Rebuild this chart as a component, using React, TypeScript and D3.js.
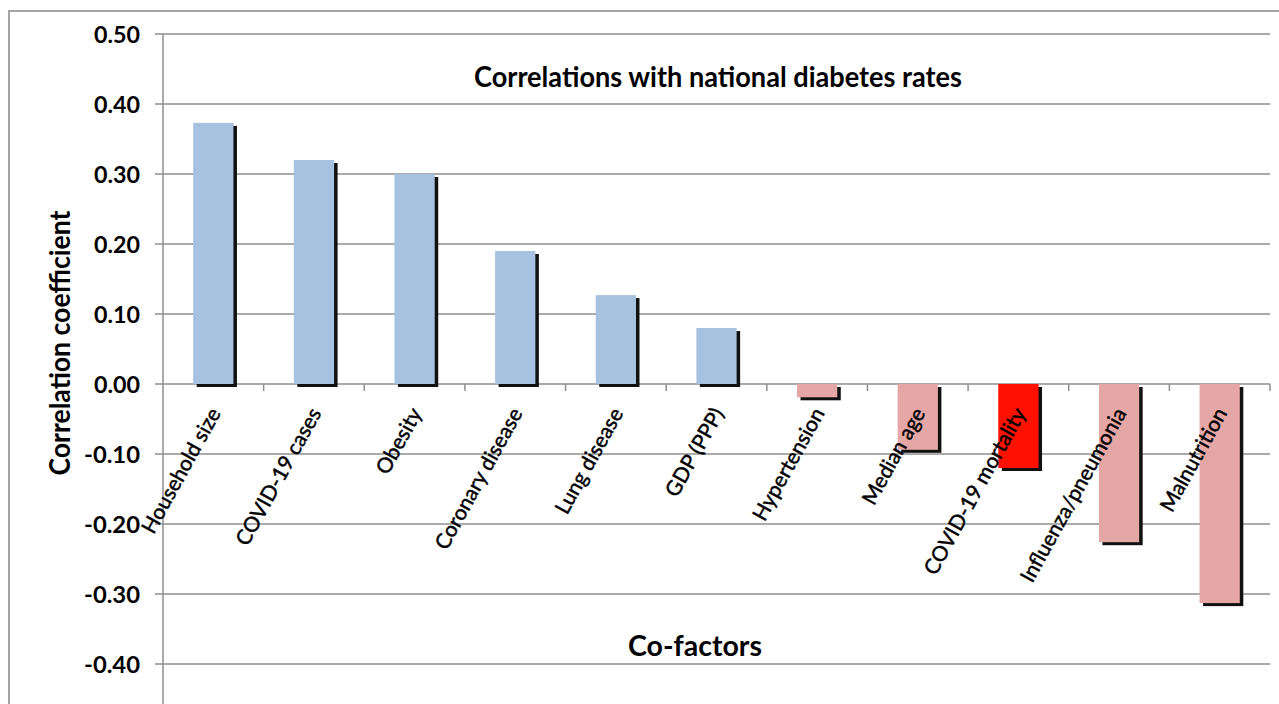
import * as d3 from 'd3';
import { useMemo } from 'react';

const categories = [
  'Household size',
  'COVID-19 cases',
  'Obesity',
  'Coronary disease',
  'Lung disease',
  'GDP (PPP)',
  'Hypertension',
  'Median age',
  'COVID-19 mortality',
  'Influenza/pneumonia',
  'Malnutrition',
];
const values = [0.373, 0.32, 0.3, 0.19, 0.127, 0.08, -0.019, -0.094, -0.12, -0.226, -0.313];
const highlight = ['COVID-19 mortality'];
const yTicks = [-0.4, -0.3, -0.2, -0.1, 0, 0.1, 0.2, 0.3, 0.4, 0.5];

const W = 1279;
const H = 704;
const FONT = 'Lato, "Open Sans", sans-serif';

export default function App() {
  const x = useMemo(
    () =>
      d3
        .scaleBand<string>()
        .domain(categories)
        .range([163, 1270])
        .paddingInner(0.6)
        .paddingOuter(0.3),
    []
  );
  const y = useMemo(() => d3.scaleLinear().domain([-0.4, 0.5]).range([664, 34]), []);
  const fmt = (v: number) => d3.format('.2f')(v).replace('\u2212', '-');
  const step = x.step();
  const bw = x.bandwidth();

  const colour = (c: string, v: number) =>
    highlight.includes(c) ? '#ff1100' : v >= 0 ? '#a7c1e0' : '#e5a7a6';

  return (
    <svg
      width={W}
      height={H}
      style={{ position: 'absolute', left: 0, top: 0, background: '#fff' }}
    >
      {/* outer frame */}
      <path d={`M9,${H} V11 H${W}`} fill='none' stroke='#a3a3a3' strokeWidth={2} />

      {/* gridlines + y ticks */}
      {yTicks.map((t) => (
        <g key={t}>
          <line x1={155} x2={1270} y1={y(t)} y2={y(t)} stroke='#8f8f8f' strokeWidth={1.5} />
          <text
            x={140}
            y={y(t) + 3}
            textAnchor='end'
            dominantBaseline='middle'
            fontFamily={FONT}
            fontWeight='bold'
            fontSize={23}
            textLength={t < 0 ? 56 : 46}
            lengthAdjust='spacingAndGlyphs'
            fill='#000'
          >
            {fmt(t)}
          </text>
        </g>
      ))}
      <line x1={163} x2={163} y1={34} y2={H} stroke='#8f8f8f' strokeWidth={1.5} />

      {/* category ticks */}
      {categories.map((c, i) => (
        <line
          key={'t' + c}
          x1={163 + (i + 1) * step}
          x2={163 + (i + 1) * step}
          y1={y(0)}
          y2={y(0) + 7}
          stroke='#8f8f8f'
          strokeWidth={1.5}
        />
      ))}

      {/* bars with shadow */}
      {categories.map((c, i) => {
        const v = values[i];
        const top = Math.min(y(v), y(0));
        const h = Math.abs(y(v) - y(0));
        return (
          <g key={'b' + c}>
            <rect x={(x(c) ?? 0) + 3.5} y={top + 3} width={bw} height={h} fill='#111' />
            <rect x={x(c)} y={top} width={bw} height={h} fill={colour(c, v)} />
          </g>
        );
      })}

      {/* rotated category labels */}
      {categories.map((c) => (
        <text
          key={'l' + c}
          transform={`translate(${(x(c) ?? 0) + bw / 2 + 8},${y(0) + 29}) rotate(-61)`}
          textAnchor='end'
          fontFamily={FONT}
          fontSize={21}
          fill='#000'
          stroke='#000'
          strokeWidth={0.45}
        >
          {c}
        </text>
      ))}

      {/* titles */}
      <text
        x={718}
        y={87}
        textAnchor='middle'
        fontFamily={FONT}
        fontWeight='bold'
        fontSize={28}
        textLength={488}
        lengthAdjust='spacingAndGlyphs'
      >
        Correlations with national diabetes rates
      </text>
      <text
        x={695}
        y={656}
        textAnchor='middle'
        fontFamily={FONT}
        fontWeight='bold'
        fontSize={29}
        textLength={134}
        lengthAdjust='spacingAndGlyphs'
      >
        Co-factors
      </text>
      <text
        transform='translate(70,343) rotate(-90)'
        textAnchor='middle'
        fontFamily={FONT}
        fontWeight='bold'
        fontSize={29}
        textLength={265}
        lengthAdjust='spacingAndGlyphs'
      >
        Correlation coefficient
      </text>
    </svg>
  );
}
